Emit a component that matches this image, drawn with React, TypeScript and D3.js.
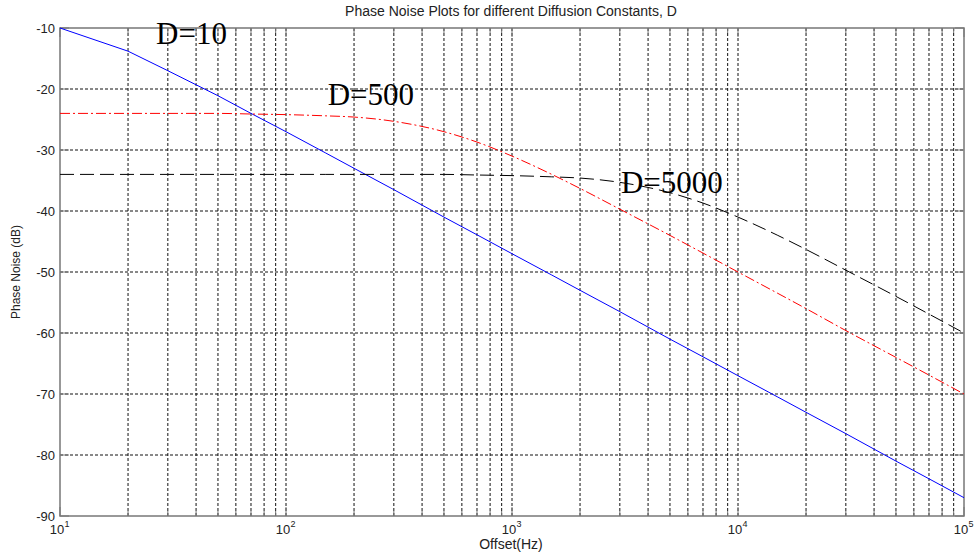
import React from "react";
import * as d3 from "d3";

const freqs = [10, 20, 30, 50, 70, 100, 150, 200, 300, 500, 700, 1000, 1500, 2000, 3000, 5000, 7000, 10000, 15000, 20000, 30000, 50000, 70000, 100000];
const d10 = [-10.0, -13.8, -17.0, -21.1, -24.0, -27.0, -30.5, -33.0, -36.5, -41.0, -43.9, -47.0, -50.5, -53.0, -56.5, -61.0, -63.9, -67.0, -70.5, -73.0, -76.5, -81.0, -83.9, -87.0];
const d500 = [-24.0, -24.0, -24.0, -24.0, -24.1, -24.2, -24.4, -24.6, -25.3, -27.0, -28.7, -31.0, -34.0, -36.3, -39.7, -44.0, -46.9, -50.0, -53.5, -56.0, -59.6, -64.0, -66.9, -70.0];
const d5000 = [-34.0, -34.0, -34.0, -34.0, -34.0, -34.0, -34.0, -34.0, -34.0, -34.0, -34.1, -34.2, -34.4, -34.6, -35.3, -37.0, -38.7, -41.0, -44.0, -46.3, -49.7, -54.0, -56.9, -60.0];
const yTicks = [-10, -20, -30, -40, -50, -60, -70, -80, -90];
const xMajor = [1, 2, 3, 4, 5];
const labels = [
  { text: "D=10", f: 26.6, v: -12.6 },
  { text: "D=500", f: 153, v: -22.6 },
  { text: "D=5000", f: 3035, v: -37.05 },
];

const W = 976, H = 554;
const L = 60, R = 964, T = 28, B = 516;

export default function App() {
  const x = d3.scaleLog().domain([10, 100000]).range([L, R]);
  const y = d3.scaleLinear().domain([-90, -10]).range([B, T]);
  const minor: number[] = [];
  for (let e = 1; e < 5; e++) for (let m = 2; m <= 9; m++) minor.push(m * Math.pow(10, e));
  const pts = (vals: number[]) => freqs.map((f, i) => [f, vals[i]] as [number, number]);
  const lineLin = d3.line<[number, number]>().x(d => x(d[0])).y(d => y(d[1]));
  const lineSmooth = d3.line<[number, number]>().x(d => x(d[0])).y(d => y(d[1])).curve(d3.curveMonotoneX);
  const gridStyle = { stroke: "#111", strokeWidth: 1, strokeDasharray: "3,2" };
  const axisCol = "#777";
  const font = "Liberation Sans, Arial, sans-serif";
  return (
    <svg width={W} height={H} style={{ position: "absolute", left: 0, top: 0, background: "#fff" }}>
      <rect x={0} y={0} width={W} height={H} fill="#fff" />
      {yTicks.slice(1, -1).map(t => (
        <line key={"gy" + t} x1={L} x2={R} y1={y(t)} y2={y(t)} {...gridStyle} />
      ))}
      {[...minor, ...xMajor.slice(1, -1).map(e => Math.pow(10, e))].map(f => (
        <line key={"gx" + f} x1={x(f)} x2={x(f)} y1={T} y2={B} {...gridStyle} />
      ))}
      {yTicks.map(t => (
        <g key={"ty" + t}>
          <line x1={L} x2={L + 9} y1={y(t)} y2={y(t)} stroke={axisCol} />
          <line x1={R} x2={R - 9} y1={y(t)} y2={y(t)} stroke={axisCol} />
          <text x={L - 5} y={y(t)} dy="0.35em" textAnchor="end" fontFamily={font} fontSize={13} fill="#222">{t}</text>
        </g>
      ))}
      {xMajor.map(e => {
        const px = x(Math.pow(10, e));
        return (
          <g key={"tx" + e}>
            <line x1={px} x2={px} y1={B} y2={B - 9} stroke={axisCol} />
            <line x1={px} x2={px} y1={T} y2={T + 9} stroke={axisCol} />
            <text x={px - 3} y={534} textAnchor="middle" fontFamily={font} fontSize={13} fill="#222">10</text>
            <text x={px + 7} y={527} textAnchor="middle" fontFamily={font} fontSize={9} fill="#222">{e}</text>
          </g>
        );
      })}
      {minor.map(f => (
        <g key={"mx" + f}>
          <line x1={x(f)} x2={x(f)} y1={B} y2={B - 5} stroke={axisCol} />
          <line x1={x(f)} x2={x(f)} y1={T} y2={T + 5} stroke={axisCol} />
        </g>
      ))}
      <rect x={L} y={T} width={R - L} height={B - T} fill="none" stroke={axisCol} strokeWidth={1.5} />
      <path d={lineLin(pts(d10)) || ""} fill="none" stroke="#0000ff" strokeWidth={1} />
      <path d={lineSmooth(pts(d500)) || ""} fill="none" stroke="#ff0000" strokeWidth={1} strokeDasharray="10,3,2,3" />
      <path d={lineSmooth(pts(d5000)) || ""} fill="none" stroke="#000" strokeWidth={1} strokeDasharray="14,6" />
      {labels.map(l => (
        <text key={l.text} x={x(l.f)} y={y(l.v)} fontFamily="Liberation Serif, Times New Roman, serif" fontSize={31} fill="#000">{l.text}</text>
      ))}
      <text x={511} y={16} textAnchor="middle" fontFamily={font} fontSize={14} fill="#222">Phase Noise Plots for different Diffusion Constants, D</text>
      <text x={511} y={549} textAnchor="middle" fontFamily={font} fontSize={14} fill="#222">Offset(Hz)</text>
      <text transform={`translate(20,${(T + B) / 2}) rotate(-90)`} textAnchor="middle" fontFamily={font} fontSize={12} fill="#222">Phase Noise (dB)</text>
    </svg>
  );
}
